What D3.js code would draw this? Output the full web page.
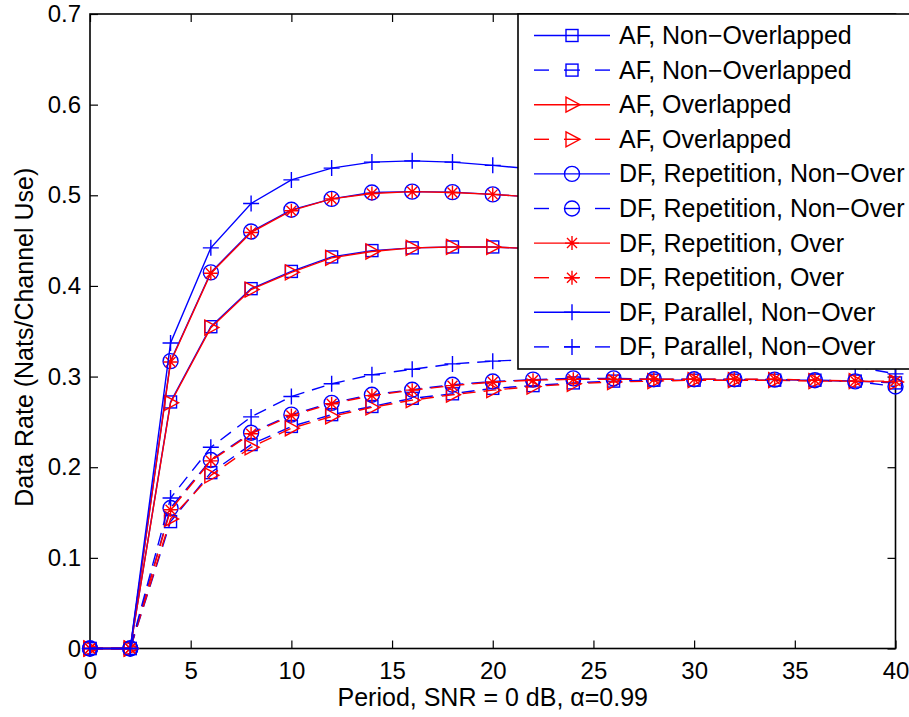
<!DOCTYPE html>
<html><head><meta charset="utf-8">
<script src="https://cdn.jsdelivr.net/npm/d3@7"></script>
<style>
body{margin:0;background:#fff;}
text{font-family:"Liberation Sans",Arial,Helvetica,sans-serif;fill:#000;}
</style>
</head><body>
<svg id="c" width="909" height="717"></svg>
<script>
// ---- data ----
const period = [0,2,4,6,8,10,12,14,16,18,20,22,24,26,28,30,32,34,36,38,40];
const xTicks = [0,5,10,15,20,25,30,35,40];
const yTicks = [0,0.1,0.2,0.3,0.4,0.5,0.6,0.7];
const yTickLabels = ["0","0.1","0.2","0.3","0.4","0.5","0.6","0.7"];

const afNonSolid   = [0,0,0.272,0.355,0.397,0.416,0.432,0.439,0.442,0.443,0.443,0.441,0.438,0.435,0.431,0.426,0.421,0.416,0.411,0.406,0.401];
const afNonDashed  = [0,0,0.140,0.194,0.225,0.245,0.258,0.267,0.276,0.281,0.287,0.290,0.293,0.295,0.296,0.296,0.296,0.296,0.296,0.295,0.293];
const afOverSolid  = [0,0,0.271,0.354,0.396,0.415,0.431,0.438,0.442,0.443,0.443,0.441,0.438,0.435,0.431,0.426,0.421,0.416,0.411,0.406,0.401];
const afOverDashed = [0,0,0.143,0.191,0.222,0.243,0.256,0.266,0.274,0.280,0.285,0.289,0.292,0.294,0.295,0.296,0.296,0.296,0.295,0.295,0.294];
const dfRepNonSolid  = [0,0,0.317,0.415,0.460,0.484,0.496,0.503,0.504,0.5035,0.501,0.498,0.494,0.489,0.484,0.478,0.472,0.466,0.460,0.454,0.448];
const dfRepNonDashed = [0,0,0.155,0.208,0.238,0.258,0.271,0.280,0.2855,0.291,0.2945,0.2966,0.298,0.298,0.297,0.297,0.297,0.2966,0.296,0.2947,0.289];
const dfRepOverSolid  = [0,0,0.316,0.414,0.459,0.483,0.496,0.502,0.504,0.503,0.501,0.498,0.494,0.489,0.484,0.478,0.472,0.466,0.460,0.454,0.448];
const dfRepOverDashed = [0,0,0.153,0.207,0.237,0.257,0.270,0.279,0.285,0.290,0.294,0.296,0.297,0.297,0.297,0.297,0.297,0.297,0.296,0.295,0.295];
const dfParNonSolid  = [0,0,0.337,0.442,0.491,0.517,0.530,0.5366,0.538,0.5366,0.533,0.529,0.524,0.518,0.512,0.505,0.498,0.491,0.484,0.477,0.470];
const dfParNonDashed = [0,0,0.166,0.222,0.2555,0.278,0.292,0.302,0.308,0.314,0.317,0.319,0.320,0.320,0.319,0.319,0.318,0.318,0.317,0.311,0.303];

const legendLabels = ["AF, Non\u2212Overlapped","AF, Non\u2212Overlapped","AF, Overlapped","AF, Overlapped",
  "DF, Repetition, Non\u2212Over","DF, Repetition, Non\u2212Over","DF, Repetition, Over","DF, Repetition, Over",
  "DF, Parallel, Non\u2212Over","DF, Parallel, Non\u2212Over"];
const xLabel = "Period, SNR = 0 dB, \u03b1=0.99";
const yLabel = "Data Rate (Nats/Channel Use)";

// ---- styles ----
const BLUE = "#0000ff", RED = "#ff0000";
const series = [
  {v: afNonSolid, c: BLUE, dash: false, m: "square"},
  {v: afNonDashed, c: BLUE, dash: true, m: "square"},
  {v: afOverSolid, c: RED, dash: false, m: "triangle"},
  {v: afOverDashed, c: RED, dash: true, m: "triangle"},
  {v: dfRepNonSolid, c: BLUE, dash: false, m: "circle"},
  {v: dfRepNonDashed, c: BLUE, dash: true, m: "circle"},
  {v: dfRepOverSolid, c: RED, dash: false, m: "asterisk"},
  {v: dfRepOverDashed, c: RED, dash: true, m: "asterisk"},
  {v: dfParNonSolid, c: BLUE, dash: false, m: "plus"},
  {v: dfParNonDashed, c: BLUE, dash: true, m: "plus"}
];

const L = 90, R = 895.5, T = 14, B = 648.5;
const FS = 24, FSL = 25;
const svg = d3.select("#c");
const x = d3.scaleLinear().domain([0,40]).range([L,R]);
const y = d3.scaleLinear().domain([0,0.7]).range([B,T]);

function drawMarker(g, type, color) {
  const sw = 1.4;
  if (type === "square") {
    g.append("rect").attr("x",-6).attr("y",-6).attr("width",12).attr("height",12)
      .attr("fill","none").attr("stroke",color).attr("stroke-width",sw);
  } else if (type === "triangle") {
    g.append("path").attr("d","M-6,-7.5L8,0L-6,7.5Z").attr("fill","none").attr("stroke",color).attr("stroke-width",sw);
  } else if (type === "circle") {
    g.append("circle").attr("r",7.5).attr("fill","none").attr("stroke",color).attr("stroke-width",sw);
  } else if (type === "asterisk") {
    const r = 7, d = 5;
    g.append("path").attr("d",`M${-r},0L${r},0M0,${-r}L0,${r}M${-d},${-d}L${d},${d}M${-d},${d}L${d},${-d}`)
      .attr("fill","none").attr("stroke",color).attr("stroke-width",sw);
  } else if (type === "plus") {
    const r = 8;
    g.append("path").attr("d",`M${-r},0L${r},0M0,${-r}L0,${r}`)
      .attr("fill","none").attr("stroke",color).attr("stroke-width",sw);
  }
}

// axes box
svg.append("rect").attr("x",L).attr("y",T).attr("width",R-L).attr("height",B-T)
  .attr("fill","none").attr("stroke","#000").attr("stroke-width",1.6);

const xAxis = d3.axisBottom(x).tickValues(xTicks).tickFormat(d3.format("d")).tickSizeInner(-8).tickSizeOuter(0).tickPadding(13);
const gx = svg.append("g").attr("transform",`translate(0,${B})`).call(xAxis);
const xTop = d3.axisTop(x).tickValues(xTicks).tickFormat("").tickSizeInner(-8).tickSizeOuter(0);
const gxt = svg.append("g").attr("transform",`translate(0,${T})`).call(xTop);
const yAxis = d3.axisLeft(y).tickValues(yTicks).tickFormat((d,i)=>yTickLabels[i]).tickSizeInner(-8).tickSizeOuter(0).tickPadding(9);
const gy = svg.append("g").attr("transform",`translate(${L},0)`).call(yAxis);
const yRight = d3.axisRight(y).tickValues(yTicks).tickFormat("").tickSizeInner(-8).tickSizeOuter(0);
const gyr = svg.append("g").attr("transform",`translate(${R},0)`).call(yRight);
[gx,gxt,gy,gyr].forEach(g=>{
  g.select(".domain").remove();
  g.selectAll(".tick line").attr("stroke","#000").attr("stroke-width",1.2);
  g.selectAll("text").attr("font-size",FS).attr("font-family",null).attr("fill","#000");
});

// axis labels
svg.append("text").attr("x",(L+R)/2).attr("y",706).attr("text-anchor","middle").attr("font-size",FSL).text(xLabel);
svg.append("text").attr("transform",`translate(33,${(T+B)/2 + 6}) rotate(-90)`).attr("text-anchor","middle").attr("font-size",FSL).text(yLabel);

// series
const line = d3.line().x((d,i)=>x(period[i])).y(d=>y(d));
series.forEach(s=>{
  const g = svg.append("g");
  g.append("path").datum(s.v).attr("d",line).attr("fill","none").attr("stroke",s.c)
    .attr("stroke-width",1.4).attr("stroke-dasharray",s.dash?"13,8":null);
  s.v.forEach((v,i)=>{
    const mg = g.append("g").attr("transform",`translate(${x(period[i])},${y(v)})`);
    drawMarker(mg, s.m, s.c);
  });
});

// legend
const lgX = 518, lgY = 14, lgW = 400, lgH = 355;
const lg = svg.append("g");
lg.append("rect").attr("x",lgX).attr("y",lgY).attr("width",lgW).attr("height",lgH)
  .attr("fill","#fff").attr("stroke","#000").attr("stroke-width",1.6);
series.forEach((s,i)=>{
  const cy = 35.5 + i*34.6;
  if (s.dash) {
    [[534,549],[564,580],[595,610]].forEach(([a,b])=>{
      lg.append("line").attr("x1",a).attr("x2",b).attr("y1",cy).attr("y2",cy).attr("stroke",s.c).attr("stroke-width",1.4);
    });
  } else {
    lg.append("line").attr("x1",534).attr("x2",610).attr("y1",cy).attr("y2",cy).attr("stroke",s.c).attr("stroke-width",1.4);
  }
  drawMarker(lg.append("g").attr("transform",`translate(572,${cy})`), s.m, s.c);
  lg.append("text").attr("x",619).attr("y",cy+8.5).attr("font-size",FSL).text(legendLabels[i]);
});
</script>
</body></html>
